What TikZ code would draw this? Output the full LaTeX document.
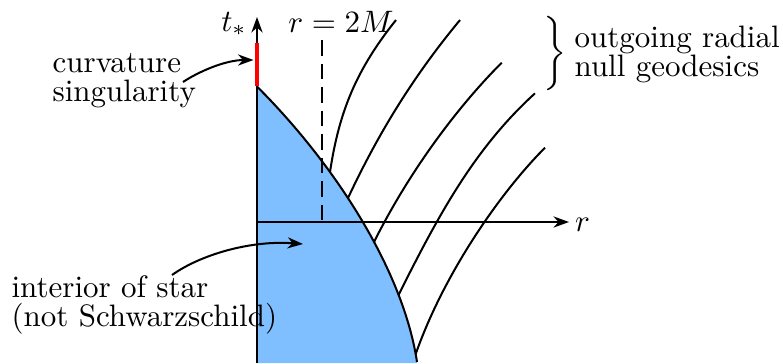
\documentclass[tikz,border=0pt]{standalone}
\usetikzlibrary{arrows.meta}
\definecolor{starblue}{RGB}{128,191,255}
\tikzset{
  ln/.style={line width=0.65pt},
  arr/.style={ln, -{Stealth[length=5pt,width=3.6pt,inset=1.6pt]}},
  lbl/.style={inner sep=0pt, align=left, font=\fontsize{10pt}{9.4pt}\selectfont},
  horizon/.style={ln, dash pattern=on 5pt off 2.6pt},
  singline/.style={red, line width=1.6pt},
}
\begin{document}
\begin{tikzpicture}[x=0.3226pt,y=-0.3226pt]
\useasboundingbox (0,0) rectangle (783,363);
% star interior
\fill[starblue] (257,86.5) .. controls (337,166.5) and (403.5,272) .. (417,362) -- (417,363) -- (257,363) -- cycle;
\draw[ln] (257,86.5) .. controls (337,166.5) and (403.5,272) .. (417,362);
% horizon
\coordinate (hztop) at (321.5,40);
\coordinate (hzbot) at (321.5,222);
\draw[horizon] (hztop) -- (hzbot);
% outgoing null geodesics
\draw[ln] (330,172) .. controls (339,112) and (356,70) .. (396,20);
\draw[ln] (348,198) .. controls (376.2,138) and (410.2,80) .. (460,20);
\draw[ln] (374,242) .. controls (409,172) and (456.7,107.7) .. (501.7,62.7);
\draw[ln] (398.5,295) .. controls (438.5,215) and (474.5,148.3) .. (535,93.3);
\draw[ln] (415.7,354) .. controls (443.7,274) and (500,192.7) .. (545,147.7);
% axes
\coordinate (tbot) at (257,363);
\coordinate (ttop) at (257,17);
\coordinate (rorig) at (257,222);
\coordinate (rend) at (569,222);
\draw[arr] (tbot) -- (ttop);
\draw[arr] (rorig) -- (rend);
% singularity
\coordinate (s1) at (257,43.3);
\coordinate (s2) at (257,85.7);
\draw[singline] (s1) -- (s2);
% labels
\node (tlabel) at (234,24) {$t_*$};
\node (hlabel) at (341,21.5) {$r = 2M$};
\node (rlabel) at (582.5,225) {$r$};
\node[lbl, anchor=west] (sing) at (52,81) {curvature\\singularity};
\node[lbl, anchor=west] (star) at (11,305) {interior of star\\(not Schwarzschild)};
\node[inner sep=0pt] (brace) at (555,53.5) {$\bigg\}$};
\node[lbl, anchor=west] (geo) at (574,54) {outgoing radial\\null geodesics};
% pointer arrows
\coordinate (singfrom) at (183,82);
\coordinate (singto) at (253.5,60);
\draw[arr] (singfrom) .. controls (198,72) and (225,60) .. (singto);
\coordinate (starfrom) at (172,275);
\coordinate (starto) at (303,244);
\draw[arr] (starfrom) .. controls (200,255) and (250,240) .. (starto);
\end{tikzpicture}
\end{document}
